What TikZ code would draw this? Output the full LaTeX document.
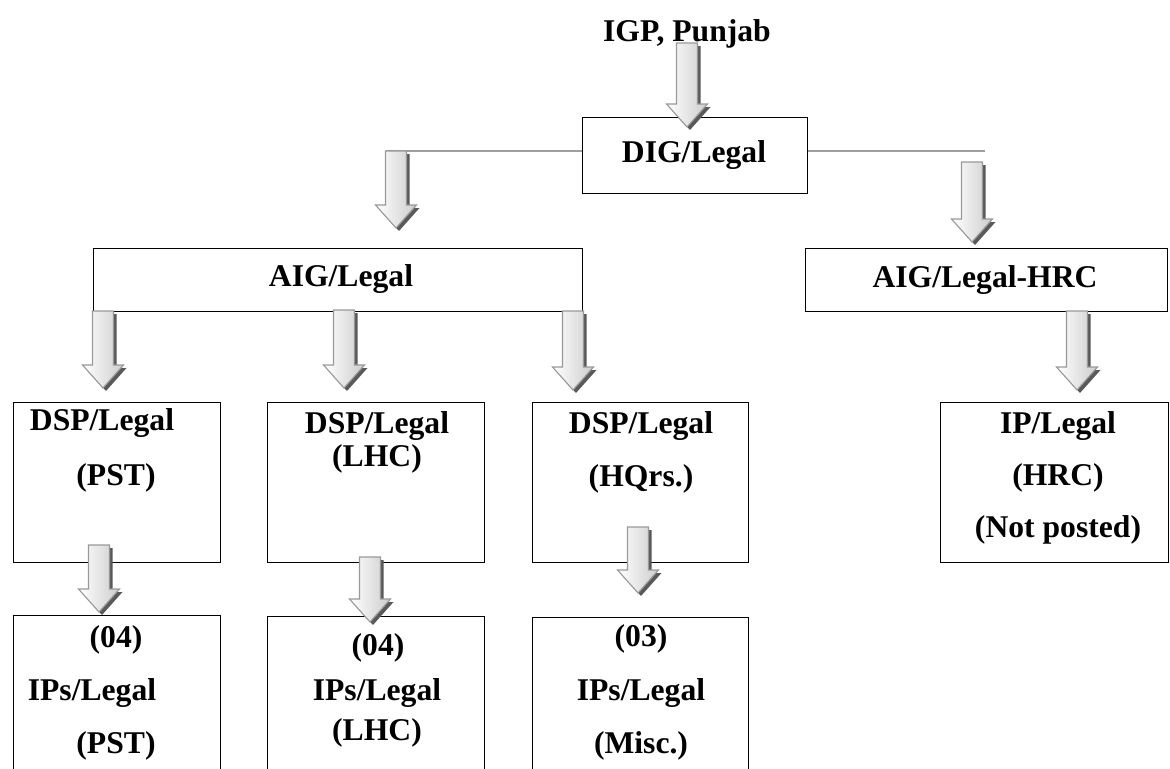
\documentclass[tikz,border=0pt]{standalone}
\usepackage{fontspec}
\setmainfont{Liberation Serif}
\usetikzlibrary{calc}

\newcommand\pxu{0.025cm}
% block arrow: x, top y, length (all in px)
\newcommand\fatarrow[3]{%
  \fill[arrshadow] ({#1-10.5+3},{#2+3}) -- ({#1+10.5+3},{#2+3}) -- ({#1+10.5+3},{#2+#3-23+3})
    -- ({#1+20.5+3},{#2+#3-23+3}) -- ({#1+3},{#2+#3+3}) -- ({#1-20.5+3},{#2+#3-23+3})
    -- ({#1-10.5+3},{#2+#3-23+3}) -- cycle;
  \draw[arrbody] ({#1-10.5},#2) -- ({#1+10.5},#2) -- ({#1+10.5},{#2+#3-23})
    -- ({#1+20.5},{#2+#3-23}) -- (#1,{#2+#3}) -- ({#1-20.5},{#2+#3-23})
    -- ({#1-10.5},{#2+#3-23}) -- cycle;}

\tikzset{
  box/.style={draw,line width=1pt,anchor=north west,inner sep=0pt},
  wh/.style 2 args={minimum width=#1*\pxu,minimum height=#2*\pxu},
  lbl/.style={font=\bfseries\fontsize{22.5}{27}\selectfont,inner sep=0pt,text height=1.5ex,text depth=0pt,yshift=-4.3pt},
  link/.style={gray!75,line width=1.4pt},
  arrshadow/.style={fill=black!65},
  arrbody/.style={draw=gray!80,line width=0.8pt,left color=white,right color=gray!40}
}

\begin{document}
\begin{tikzpicture}[x=0.025cm,y=-0.025cm]
\useasboundingbox (0,0) rectangle (1170,769);

% boxes
\node[box,wh={225}{76}] (dig) at (582,117) {};
\node[box,wh={489}{63}] (aig) at (93,248) {};
\node[box,wh={362}{63}] (aighrc) at (805,248) {};
\node[box,wh={207}{160}] (dsp1) at (13,402) {};
\node[box,wh={217}{160}] (dsp2) at (267,402) {};
\node[box,wh={216}{160}] (dsp3) at (532,402) {};
\node[box,wh={228}{160}] (iphrc) at (940,402) {};
\node[box,wh={207}{175}] (ip1) at (13,615) {};
\node[box,wh={217}{175}] (ip2) at (267,616) {};
\node[box,wh={216}{175}] (ip3) at (532,617) {};

% texts
\node[lbl] (igp) at (687,31) {IGP, Punjab};
\node[lbl] (digt) at (694,152) {DIG/Legal};
\node[lbl] (aigt) at (341,276) {AIG/Legal};
\node[lbl] (aighrct) at (985,277) {AIG/Legal-HRC};

\node[lbl] (dsp1a) at (102,420) {DSP/Legal};
\node[lbl] (dsp1b) at (116,475) {(PST)};
\node[lbl] (dsp2a) at (377,423) {DSP/Legal};
\node[lbl] (dsp2b) at (377,456) {(LHC)};
\node[lbl] (dsp3a) at (641,423) {DSP/Legal};
\node[lbl] (dsp3b) at (641,476) {(HQrs.)};
\node[lbl] (iphrca) at (1058,423) {IP/Legal};
\node[lbl] (iphrcb) at (1058,475) {(HRC)};
\node[lbl] (iphrcc) at (1058,527) {(Not posted)};

\node[lbl] (ip1a) at (116,637) {(04)};
\node[lbl] (ip1b) at (92,690) {IPs/Legal};
\node[lbl] (ip1c) at (116,743) {(PST)};
\node[lbl] (ip2a) at (378,645) {(04)};
\node[lbl] (ip2b) at (377,690) {IPs/Legal};
\node[lbl] (ip2c) at (377,730) {(LHC)};
\node[lbl] (ip3a) at (641,636) {(03)};
\node[lbl] (ip3b) at (641,690) {IPs/Legal};
\node[lbl] (ip3c) at (641,743) {(Misc.)};

% side lines off DIG/Legal
\coordinate (ljoin) at (386,151);
\coordinate (rjoin) at (985,151);
\draw[link] (ljoin) -- (ljoin -| dig.west);
\draw[link] (rjoin) -- (rjoin -| dig.east);

% arrows
\fatarrow{687}{43}{84}
\fatarrow{396}{151}{77}
\fatarrow{972}{162}{80}
\fatarrow{103}{311}{77}
\fatarrow{344}{310}{78}
\fatarrow{573}{311}{79}
\fatarrow{1077}{311}{79}
\fatarrow{99}{545}{67}
\fatarrow{370}{557}{65}
\fatarrow{638}{527}{66}

\end{tikzpicture}
\end{document}
